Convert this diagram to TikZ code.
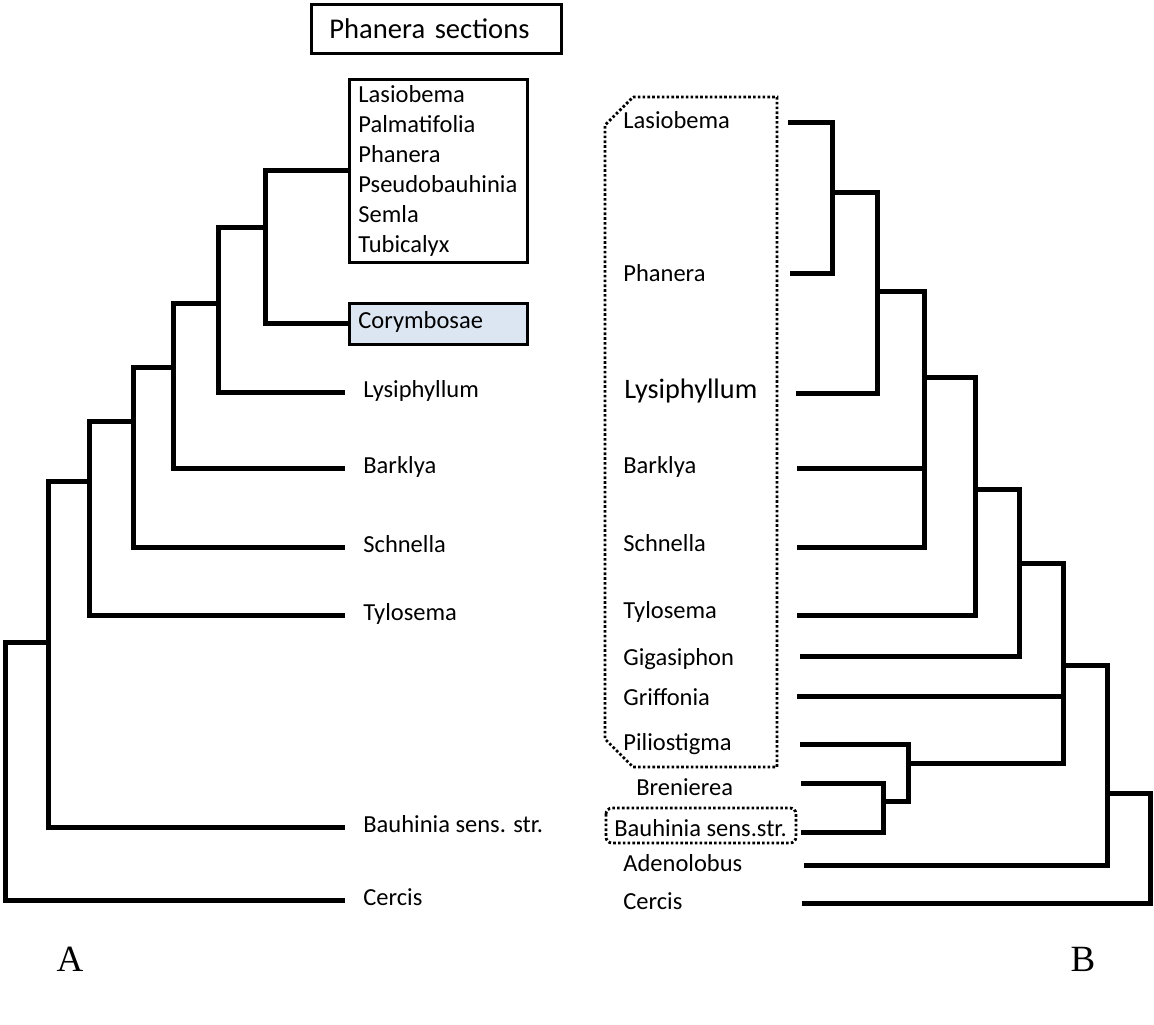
\documentclass[tikz,border=0pt]{standalone}
\usepackage{fontspec}
\setmainfont{Carlito}
\newfontfamily\letterfont{Liberation Serif}
\usetikzlibrary{positioning}
\definecolor{corfill}{RGB}{220,230,242}

\begin{document}
\begin{tikzpicture}[
  x=0.5pt, y=-0.5pt,
  font=\fontsize{12.25}{15}\selectfont,
  branch/.style={line width=2.5pt, line join=miter},
  taxonA/.style={anchor=west, inner xsep=9pt, inner ysep=0pt, text height=0.65em, text depth=0.1em},
  taxonB/.style={anchor=base west, inner sep=0pt},
  secbox/.style={draw, line width=1.4pt, align=left, inner xsep=4.5pt, inner ysep=0pt, anchor=north west},
  dotline/.style={line width=1.4pt, dash pattern=on 1.3pt off 1.1pt},
  panel/.style={font=\letterfont\fontsize{18.5}{20}\selectfont, anchor=base, inner sep=0pt},
]
  \useasboundingbox (0,0) rectangle (1154,1024);

  % tree A: sections of Phanera
  \node[secbox, inner xsep=9pt, text width=107pt, minimum height=24.5pt,
        font=\fontsize{14.3}{17}\selectfont] (title) at (310,3) {Phanera sections};
  \node[secbox, text width=80pt, minimum height=91.5pt] (aSec) at (348,78)
    {Lasiobema\\Palmatifolia\\Phanera\\Pseudobauhinia\\Semla\\Tubicalyx};
  \node[secbox, fill=corfill, text width=80pt, minimum height=20.5pt, text depth=4pt] (aCor) at (348,302) {Corymbosae};
  \foreach \n/\y/\t in {Lys/392/Lysiphyllum, Bar/468/Barklya, Sch/547/Schnella,
                        Tyl/615/Tylosema, Bau/827/{Bauhinia sens. str.}, Cer/900/Cercis} {
    \node[taxonA] (a\n) at (345,\y) {\t};
  }
  \coordinate (aN1) at (265,227);
  \coordinate (aN2) at (218,303);
  \coordinate (aN3) at (173,367);
  \coordinate (aN4) at (133,421);
  \coordinate (aN5) at (89,481);
  \coordinate (aN6) at (48,642);
  \coordinate (aR) at (5,700);
  \draw[branch] (aSec.west) -| (aN1) |- (aCor.west);
  \draw[branch] (aN1) -| (aN2) |- (aLys.west);
  \draw[branch] (aN2) -| (aN3) |- (aBar.west);
  \draw[branch] (aN3) -| (aN4) |- (aSch.west);
  \draw[branch] (aN4) -| (aN5) |- (aTyl.west);
  \draw[branch] (aN5) -| (aN6) |- (aBau.west);
  \draw[branch] (aN6) -| (aR) |- (aCer.west);

  % tree B: genera
  \foreach \n/\x/\y/\t in {Las/623/128/Lasiobema, Pha/623/281/Phanera, Bar/623/473/Barklya,
                           Sch/623/551/Schnella, Tyl/623/618/Tylosema, Gig/623/665/Gigasiphon,
                           Gri/623/705/Griffonia, Pil/623/750/Piliostigma, Bre/636/795/Brenierea,
                           Bau/614/836/{Bauhinia sens.str.}, Ade/623/871/Adenolobus, Cer/623/909/Cercis} {
    \node[taxonB] (b\n) at (\x,\y) {\t};
  }
  \node[taxonB, font=\fontsize{14.1}{17}\selectfont] (bLys) at (624,398) {Lysiphyllum};
  \draw[dotline] (633,97) -- (777,97) -- (777,767) -- (633,767) -- (605,739) -- (605,125) -- cycle;
  \draw[dotline, rounded corners=3pt] (606,808) rectangle (796,843);

  \foreach \n/\x/\y in {Las/788/122, Pha/790/273, Lys/796/393, Bar/797/468, Sch/797/547,
                        Tyl/797/615, Gig/800/656, Gri/797/696, Pil/800/744, Bre/801/783,
                        Bau/801/832, Ade/804/865, Cer/802/903} {
    \coordinate (t\n) at (\x,\y);
  }
  \coordinate (bN1) at (832,192);
  \coordinate (bN2) at (877,291);
  \coordinate (bN3) at (924,377);
  \coordinate (bN4) at (975,489);
  \coordinate (bN5) at (1019,563);
  \coordinate (bN6) at (908,763);
  \coordinate (bN7) at (883,801);
  \coordinate (bN8) at (1063,665);
  \coordinate (bN9) at (1107,793);
  \coordinate (bR) at (1150,850);
  \draw[branch] (tLas) -| (bN1) |- (tPha);
  \draw[branch] (bN1) -| (bN2) |- (tLys);
  \draw[branch] (bN2) -| (bN3) |- (tSch);
  \draw[branch] (tBar) -- (tBar -| bN3);
  \draw[branch] (bN3) -| (bN4) |- (tTyl);
  \draw[branch] (bN4) -| (bN5) |- (tGig);
  \draw[branch] (tBre) -| (bN7) |- (tBau);
  \draw[branch] (tPil) -| (bN6) |- (bN7);
  \draw[branch] (bN5) -| (bN8) |- (bN6);
  \draw[branch] (tGri) -- (tGri -| bN8);
  \draw[branch] (bN8) -| (bN9) |- (tAde);
  \draw[branch] (bN9) -| (bR) |- (tCer);

  \node[panel] (labA) at (70,971) {A};
  \node[panel] (labB) at (1083,971) {B};
\end{tikzpicture}
\end{document}
